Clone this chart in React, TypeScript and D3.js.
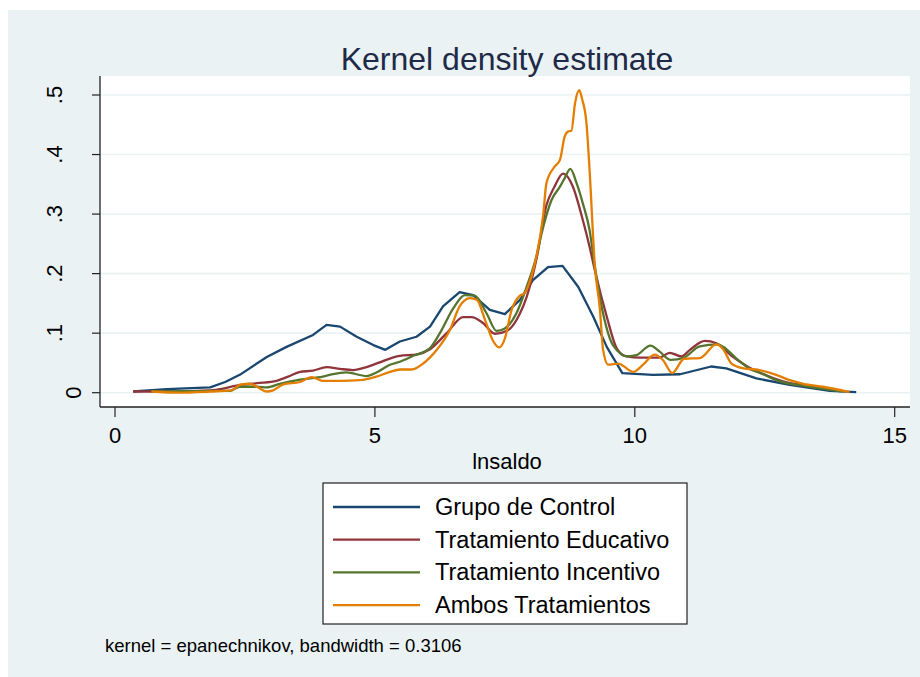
import React, { useRef, useEffect } from 'react';
import * as d3 from 'd3';

type Pt = [number, number];

// lnsaldo value, density
const grupoControl: Pt[] = [
  [0.35, 0.002], [1.0, 0.006], [1.83, 0.009], [2.12, 0.018], [2.4, 0.03], [2.92, 0.06],
  [3.3, 0.077], [3.81, 0.097], [4.07, 0.114], [4.33, 0.111], [4.65, 0.094], [4.97, 0.08],
  [5.2, 0.072], [5.48, 0.086], [5.8, 0.094], [6.06, 0.111], [6.31, 0.145], [6.63, 0.169],
  [6.89, 0.164], [7.21, 0.139], [7.5, 0.132], [7.79, 0.156], [8.04, 0.189], [8.33, 0.211],
  [8.61, 0.213], [8.91, 0.178], [9.2, 0.128], [9.46, 0.077], [9.76, 0.033], [10.35, 0.03],
  [10.87, 0.031], [11.47, 0.044], [11.76, 0.041], [12.34, 0.024], [12.98, 0.013],
  [13.75, 0.003], [14.26, 0.001],
];

const tratEducativo: Pt[] = [
  [0.35, 0.002], [1.0, 0.002], [1.83, 0.004], [2.08, 0.007], [2.28, 0.011], [2.73, 0.016],
  [3.11, 0.02], [3.33, 0.027], [3.56, 0.035], [3.81, 0.037], [4.07, 0.043], [4.33, 0.04],
  [4.58, 0.038], [4.84, 0.043], [5.06, 0.05], [5.48, 0.062], [5.8, 0.064], [6.06, 0.073],
  [6.38, 0.1], [6.7, 0.127], [6.86, 0.127], [7.08, 0.117], [7.31, 0.099], [7.56, 0.105],
  [7.79, 0.133], [7.92, 0.161], [8.11, 0.225], [8.3, 0.315], [8.45, 0.345], [8.62, 0.368],
  [8.8, 0.348], [9.0, 0.29], [9.13, 0.245], [9.23, 0.206], [9.46, 0.128], [9.65, 0.075],
  [9.84, 0.061], [10.1, 0.059], [10.48, 0.059], [10.67, 0.067], [10.9, 0.061], [11.06, 0.072],
  [11.35, 0.087], [11.57, 0.083], [11.86, 0.062], [12.15, 0.045], [12.4, 0.034],
  [12.85, 0.019], [13.37, 0.011], [13.88, 0.005],
];

const tratIncentivo: Pt[] = [
  [0.7, 0.002], [1.83, 0.003], [2.21, 0.003], [2.4, 0.01], [2.73, 0.01], [2.92, 0.009],
  [3.17, 0.015], [3.56, 0.022], [4.0, 0.027], [4.19, 0.031], [4.45, 0.034], [4.84, 0.028],
  [5.03, 0.034], [5.29, 0.047], [5.48, 0.052], [5.74, 0.062], [6.06, 0.075], [6.25, 0.1],
  [6.51, 0.142], [6.73, 0.164], [6.92, 0.163], [7.15, 0.133], [7.34, 0.104], [7.5, 0.108],
  [7.72, 0.133], [7.92, 0.178], [8.11, 0.23], [8.2, 0.265], [8.4, 0.324], [8.56, 0.346],
  [8.65, 0.36], [8.76, 0.376], [8.88, 0.352], [9.0, 0.318], [9.13, 0.273], [9.23, 0.212],
  [9.39, 0.133], [9.58, 0.08], [9.87, 0.061], [10.03, 0.063], [10.3, 0.079], [10.48, 0.069],
  [10.69, 0.055], [10.95, 0.059], [11.25, 0.078], [11.6, 0.081], [11.7, 0.077], [11.96, 0.057],
  [12.21, 0.04], [12.45, 0.032], [12.72, 0.021], [13.37, 0.01], [14.0, 0.002],
];

const ambosTrat: Pt[] = [
  [0.7, 0.002], [1.25, 0.0], [1.83, 0.002], [2.24, 0.004], [2.4, 0.013], [2.6, 0.015],
  [2.73, 0.01], [2.92, 0.002], [3.04, 0.004], [3.24, 0.014], [3.56, 0.018], [3.78, 0.026],
  [4.0, 0.02], [4.33, 0.02], [4.71, 0.021], [5.03, 0.027], [5.29, 0.035], [5.48, 0.039],
  [5.71, 0.039], [5.93, 0.049], [6.19, 0.072], [6.44, 0.105], [6.63, 0.145], [6.83, 0.159],
  [6.96, 0.156], [7.12, 0.122], [7.28, 0.086], [7.39, 0.076], [7.5, 0.091], [7.63, 0.139],
  [7.79, 0.163], [7.88, 0.167], [8.01, 0.195], [8.11, 0.23], [8.24, 0.3], [8.3, 0.352],
  [8.46, 0.38], [8.56, 0.391], [8.65, 0.43], [8.72, 0.439], [8.78, 0.44], [8.85, 0.486],
  [8.93, 0.508], [8.99, 0.492], [9.07, 0.453], [9.13, 0.374], [9.23, 0.215], [9.33, 0.139],
  [9.39, 0.072], [9.49, 0.047], [9.68, 0.049], [9.97, 0.035], [10.16, 0.047], [10.38, 0.064],
  [10.54, 0.055], [10.72, 0.033], [10.95, 0.057], [11.25, 0.058], [11.57, 0.081], [11.7, 0.073],
  [11.86, 0.049], [12.09, 0.041], [12.4, 0.038], [12.72, 0.03], [12.98, 0.021], [13.24, 0.015],
  [13.62, 0.01], [14.13, 0.001],
];

const seriesNames = ['Grupo de Control', 'Tratamiento Educativo', 'Tratamiento Incentivo', 'Ambos Tratamientos'];
const seriesData = [grupoControl, tratEducativo, tratIncentivo, ambosTrat];
const seriesColors = ['#1a476f', '#90353b', '#55752f', '#e37e00'];

const xTicks = [0, 5, 10, 15];
const yTicks = [0, 0.1, 0.2, 0.3, 0.4, 0.5];
const yTickLabels = ['0', '.1', '.2', '.3', '.4', '.5'];

const FONT = '"Liberation Sans", Arial, Helvetica, sans-serif';

const App = () => {
  const ref = useRef<HTMLDivElement>(null);

  useEffect(() => {
    const width = 920;
    const height = 677;
    const plot = { left: 100, right: 910, top: 76, bottom: 407 };

    const x = d3.scaleLinear().domain([0, 15]).range([115, 894.7]);
    const y = d3.scaleLinear().domain([0, 0.5]).range([392.7, 95]);

    const root = d3.select(ref.current);
    root.selectAll('*').remove();
    const svg = root.append('svg')
      .attr('width', width)
      .attr('height', height)
      .style('position', 'absolute')
      .style('left', 0)
      .style('top', 0)
      .style('font-family', FONT);

    // graph region
    svg.append('rect')
      .attr('x', 8).attr('y', 10)
      .attr('width', width - 8).attr('height', height - 10)
      .attr('fill', '#eaf2f3');

    // plot region
    svg.append('rect')
      .attr('x', plot.left).attr('y', plot.top)
      .attr('width', plot.right - plot.left).attr('height', plot.bottom - plot.top)
      .attr('fill', '#ffffff');

    svg.append('g')
      .selectAll('line')
      .data(yTicks)
      .join('line')
      .attr('x1', plot.left).attr('x2', plot.right)
      .attr('y1', d => y(d)).attr('y2', d => y(d))
      .attr('stroke', '#eaf2f3')
      .attr('stroke-width', 1.6);

    // title
    svg.append('text')
      .attr('x', 507).attr('y', 70)
      .attr('text-anchor', 'middle')
      .attr('font-size', 32)
      .attr('fill', '#1e2a47')
      .text('Kernel density estimate');

    // curves
    const lineGen = d3.line<Pt>()
      .x(d => x(d[0]))
      .y(d => y(d[1]));

    svg.append('g')
      .selectAll('path')
      .data(seriesData)
      .join('path')
      .attr('d', (d, i) => lineGen.curve(i === 0 ? d3.curveLinear : d3.curveMonotoneX)(d))
      .attr('fill', 'none')
      .attr('stroke', (d, i) => seriesColors[i])
      .attr('stroke-width', 2.3)
      .attr('stroke-linejoin', 'round');

    // axes
    const axisColor = '#222';
    svg.append('line')
      .attr('x1', plot.left).attr('x2', plot.left)
      .attr('y1', plot.top).attr('y2', plot.bottom)
      .attr('stroke', axisColor).attr('stroke-width', 1.3);
    svg.append('line')
      .attr('x1', plot.left).attr('x2', plot.right)
      .attr('y1', plot.bottom).attr('y2', plot.bottom)
      .attr('stroke', axisColor).attr('stroke-width', 1.3);

    const yg = svg.append('g');
    yg.selectAll('line')
      .data(yTicks)
      .join('line')
      .attr('x1', plot.left - 8).attr('x2', plot.left)
      .attr('y1', d => y(d)).attr('y2', d => y(d))
      .attr('stroke', axisColor).attr('stroke-width', 1.2);
    yg.selectAll('text')
      .data(yTicks)
      .join('text')
      .attr('transform', (d, i) => `translate(${yTickLabels[i] === '0' ? 81 : 62},${y(d)}) rotate(-90)`)
      .attr('text-anchor', 'middle')
      .attr('font-size', 22)
      .attr('fill', '#000')
      .text((d, i) => yTickLabels[i]);

    const xg = svg.append('g');
    xg.selectAll('line')
      .data(xTicks)
      .join('line')
      .attr('x1', d => x(d)).attr('x2', d => x(d))
      .attr('y1', plot.bottom).attr('y2', plot.bottom + 10)
      .attr('stroke', axisColor).attr('stroke-width', 1.2);
    xg.selectAll('text')
      .data(xTicks)
      .join('text')
      .attr('x', d => x(d))
      .attr('y', 443)
      .attr('text-anchor', 'middle')
      .attr('font-size', 22)
      .attr('fill', '#000')
      .text(d => String(d));

    svg.append('text')
      .attr('x', 507).attr('y', 469)
      .attr('text-anchor', 'middle')
      .attr('font-size', 22)
      .attr('fill', '#000')
      .text('lnsaldo');

    // legend
    const leg = svg.append('g').attr('transform', 'translate(323,483)');
    leg.append('rect')
      .attr('width', 364).attr('height', 141)
      .attr('fill', '#fff')
      .attr('stroke', '#222').attr('stroke-width', 1.2);
    const rows = leg.selectAll('g')
      .data(seriesNames)
      .join('g')
      .attr('transform', (d, i) => `translate(0,${24 + i * 32.7})`);
    rows.append('line')
      .attr('x1', 10).attr('x2', 97)
      .attr('stroke', (d, i) => seriesColors[i])
      .attr('stroke-width', 2.3);
    rows.append('text')
      .attr('x', 112).attr('y', 8)
      .attr('font-size', 23.5)
      .attr('fill', '#000')
      .text(d => d);

    // note
    svg.append('text')
      .attr('x', 105).attr('y', 652)
      .attr('font-size', 18.5)
      .attr('fill', '#000')
      .text('kernel = epanechnikov, bandwidth = 0.3106');
  }, []);

  return <div ref={ref} />;
};

export default App;
